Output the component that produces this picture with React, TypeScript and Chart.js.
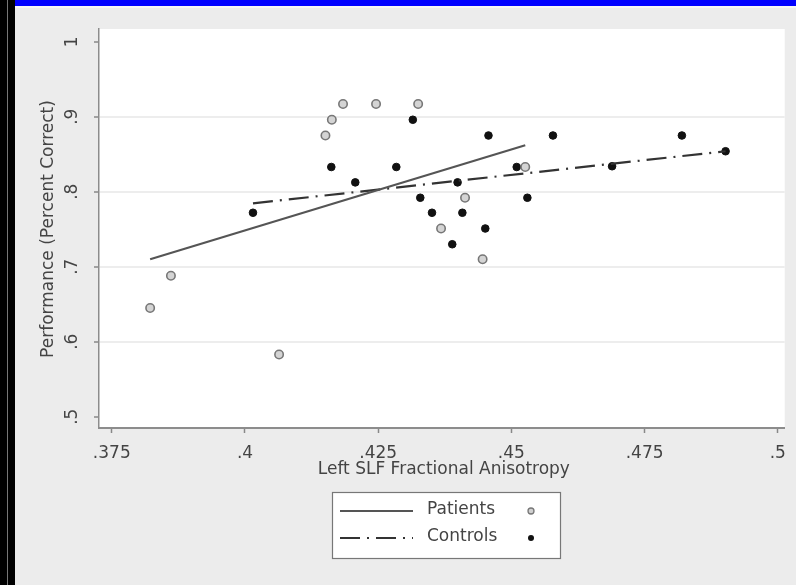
import React, { useEffect, useRef } from "react";
import { Chart, registerables } from "chart.js";

Chart.register(...registerables);

const patientsX = [0.3822, 0.3861, 0.4064, 0.4151, 0.4163, 0.4184, 0.4246, 0.4325, 0.4368, 0.4413, 0.4446, 0.4526];
const patientsY = [0.645, 0.688, 0.583, 0.875, 0.896, 0.917, 0.917, 0.917, 0.751, 0.792, 0.71, 0.833];
const controlsX = [0.4015, 0.4162, 0.4207, 0.4284, 0.4315, 0.4329, 0.4351, 0.4389, 0.4399, 0.4408, 0.4451, 0.4457, 0.451, 0.453, 0.4578, 0.4689, 0.482, 0.4902];
const controlsY = [0.772, 0.833, 0.8125, 0.833, 0.896, 0.792, 0.772, 0.73, 0.8125, 0.772, 0.751, 0.875, 0.833, 0.792, 0.875, 0.834, 0.875, 0.854];
const patientFitX = [0.3822, 0.4526];
const patientFitY = [0.71, 0.862];
const controlFitX = [0.4015, 0.4902];
const controlFitY = [0.7845, 0.854];

const xTickValues = [0.375, 0.4, 0.425, 0.45, 0.475, 0.5];
const xTickLabels = [".375", ".4", ".425", ".45", ".475", ".5"];
const yTickValues = [0.5, 0.6, 0.7, 0.8, 0.9, 1];
const yTickLabels = [".5", ".6", ".7", ".8", ".9", "1"];
const xTitle = "Left SLF Fractional Anisotropy";
const yTitle = "Performance (Percent Correct)";
const legendLabels = ["Patients", "Controls"];

const FONT = '"DejaVu Sans", sans-serif';
const FONT_SIZE = 17;
const TEXT_COLOR = "#444";
const CONTROL_DASH = [20, 7, 2, 7];

const toPoints = (xs: number[], ys: number[]) => xs.map((x, i) => ({ x, y: ys[i] }));

export default function App() {
  const ref = useRef<HTMLCanvasElement | null>(null);

  useEffect(() => {
    const canvas = ref.current;
    if (!canvas) return;

    const decor = {
      id: "decor",
      beforeDraw(chart: any) {
        const { ctx, chartArea } = chart;
        ctx.save();
        ctx.fillStyle = "#ffffff";
        ctx.fillRect(chartArea.left, chartArea.top, chartArea.right - chartArea.left, chartArea.bottom - chartArea.top);
        ctx.restore();
      },
      afterDraw(chart: any) {
        const { ctx, chartArea } = chart;
        const ys = chart.scales.y;
        ctx.save();
        ctx.fillStyle = TEXT_COLOR;
        ctx.font = `${FONT_SIZE}px ${FONT}`;
        ctx.textAlign = "center";
        ctx.textBaseline = "middle";
        yTickValues.forEach((v, i) => {
          const py = ys.getPixelForValue(v);
          ctx.save();
          ctx.translate(73, py);
          ctx.rotate(-Math.PI / 2);
          ctx.fillText(yTickLabels[i], 0, 0);
          ctx.restore();
        });
        ctx.save();
        ctx.translate(49, 229);
        ctx.rotate(-Math.PI / 2);
        ctx.fillText(yTitle, 0, 0);
        ctx.restore();
        ctx.fillText(xTitle, (chartArea.left + chartArea.right) / 2 + 2, 470);

        // legend
        const bx = 332, by = 492, bw = 228, bh = 66;
        ctx.fillStyle = "#ffffff";
        ctx.fillRect(bx, by, bw, bh);
        ctx.strokeStyle = "#777";
        ctx.lineWidth = 1.2;
        ctx.strokeRect(bx + 0.5, by + 0.5, bw, bh);
        const rows = [511, 538];
        ctx.strokeStyle = "#555";
        ctx.lineWidth = 2.2;
        ctx.setLineDash([]);
        ctx.beginPath();
        ctx.moveTo(340, rows[0]);
        ctx.lineTo(413, rows[0]);
        ctx.stroke();
        ctx.strokeStyle = "#333";
        ctx.setLineDash(CONTROL_DASH);
        ctx.beginPath();
        ctx.moveTo(340, rows[1]);
        ctx.lineTo(413, rows[1]);
        ctx.stroke();
        ctx.setLineDash([]);
        ctx.fillStyle = TEXT_COLOR;
        ctx.textAlign = "left";
        ctx.fillText(legendLabels[0], 427, rows[0] - 1);
        ctx.fillText(legendLabels[1], 427, rows[1] - 1);
        ctx.beginPath();
        ctx.arc(531, rows[0], 3, 0, Math.PI * 2);
        ctx.fillStyle = "#d0d0d0";
        ctx.fill();
        ctx.strokeStyle = "#777";
        ctx.lineWidth = 1.3;
        ctx.stroke();
        ctx.beginPath();
        ctx.arc(531, rows[1], 3, 0, Math.PI * 2);
        ctx.fillStyle = "#111";
        ctx.fill();
        ctx.restore();
      },
    };

    const chart = new Chart(canvas, {
      type: "scatter",
      data: {
        datasets: [
          {
            label: "Patients fit",
            type: "line",
            data: toPoints(patientFitX, patientFitY),
            borderColor: "#555",
            borderWidth: 2.2,
            pointRadius: 0,
            fill: false,
          } as any,
          {
            label: "Controls fit",
            type: "line",
            data: toPoints(controlFitX, controlFitY),
            borderColor: "#333",
            borderWidth: 2.2,
            borderDash: CONTROL_DASH,
            pointRadius: 0,
            fill: false,
          } as any,
          {
            label: "Patients",
            data: toPoints(patientsX, patientsY),
            pointStyle: "circle",
            pointRadius: 4.2,
            backgroundColor: "#d4d4d4",
            borderColor: "#777",
            borderWidth: 1.6,
          },
          {
            label: "Controls",
            data: toPoints(controlsX, controlsY),
            pointStyle: "circle",
            pointRadius: 3.8,
            backgroundColor: "#111",
            borderColor: "#111",
            borderWidth: 1,
          },
        ],
      },
      options: {
        animation: false,
        responsive: false,
        devicePixelRatio: 1,
        layout: { padding: { left: 0, top: 29, right: 10, bottom: 0 } },
        plugins: { legend: { display: false }, tooltip: { enabled: false } },
        scales: {
          x: {
            type: "linear",
            min: 0.3726,
            max: 0.5013,
            afterBuildTicks: (s: any) => {
              s.ticks = xTickValues.map((v) => ({ value: v }));
            },
            afterFit: (s: any) => {
              s.height = 157;
            },
            ticks: {
              autoSkip: false,
              maxRotation: 0,
              minRotation: 0,
              padding: 10,
              color: TEXT_COLOR,
              font: { family: FONT, size: FONT_SIZE },
              callback: (v: any) => {
                const i = xTickValues.findIndex((t) => Math.abs(t - v) < 1e-9);
                return i >= 0 ? xTickLabels[i] : "";
              },
            },
            grid: {
              drawOnChartArea: false,
              drawTicks: true,
              tickLength: 5,
              tickColor: "#888",
              tickWidth: 1.5,
            },
            border: { display: true, color: "#8c8c8c", width: 2 },
          },
          y: {
            type: "linear",
            min: 0.485,
            max: 1.017,
            afterBuildTicks: (s: any) => {
              s.ticks = yTickValues.map((v) => ({ value: v }));
            },
            afterFit: (s: any) => {
              s.width = 99;
            },
            ticks: { display: false },
            grid: {
              drawOnChartArea: true,
              drawTicks: true,
              tickLength: 5,
              tickColor: "#888",
              tickWidth: 1.5,
              lineWidth: 2,
              color: (ctx: any) => {
                const v = ctx.tick ? ctx.tick.value : null;
                if (v === null || Math.abs(v - 0.5) < 1e-9 || Math.abs(v - 1) < 1e-9) return "rgba(0,0,0,0)";
                return "#ededed";
              },
            },
            border: { display: true, color: "#8c8c8c", width: 1.5 },
          },
        },
      },
      plugins: [decor],
    });

    return () => chart.destroy();
  }, []);

  return (
    <div style={{ position: "fixed", left: 0, top: 0, width: 796, height: 585, background: "#ececec", overflow: "hidden" }}>
      <div style={{ position: "absolute", left: 0, top: 0, width: 15, height: 585, background: "#000" }} />
      <div style={{ position: "absolute", left: 7, top: 0, width: 1, height: 585, background: "#777" }} />
      <div style={{ position: "absolute", left: 15, top: 0, width: 781, height: 6, background: "#0000ff" }} />
      <div style={{ position: "absolute", left: 15, top: 6, width: 781, height: 2, background: "#f6f6f6" }} />
      <canvas ref={ref} width={796} height={585} style={{ position: "absolute", left: 0, top: 0, width: 796, height: 585 }} />
    </div>
  );
}
